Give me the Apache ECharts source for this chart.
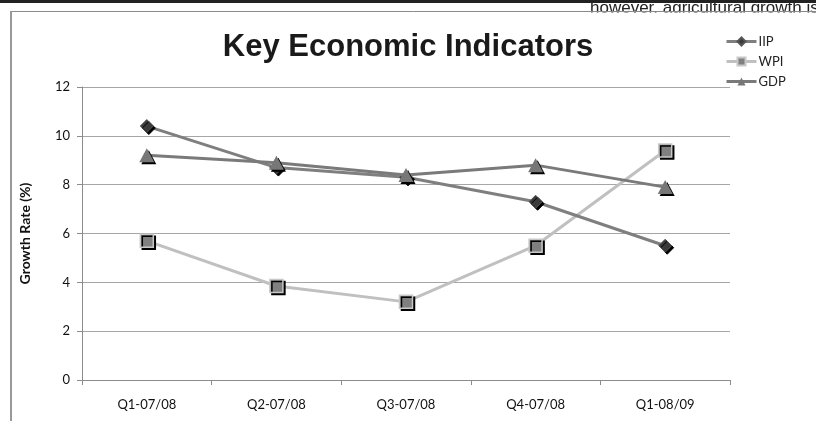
<!DOCTYPE html>
<html>
<head>
<meta charset="utf-8">
<script src="https://cdn.jsdelivr.net/npm/echarts@6/dist/echarts.min.js"></script>
<style>
  html, body { margin: 0; padding: 0; background: #fff; }
  #chart { width: 816px; height: 421px; }
</style>
</head>
<body>
<div id="chart"></div>
<script>
// Quarterly growth rates (%)
const quarters = ['Q1-07/08', 'Q2-07/08', 'Q3-07/08', 'Q4-07/08', 'Q1-08/09'];
const iip = [10.4, 8.7, 8.3, 7.3, 5.5];
const wpi = [5.7, 3.85, 3.2, 5.5, 9.4];
const gdp = [9.2, 8.9, 8.4, 8.8, 7.9];
const yTicks = { min: 0, max: 12, interval: 2 };

const labelFont = 'Lato, "Open Sans", sans-serif';
const markerShadow = { shadowColor: '#000', shadowBlur: 0, shadowOffsetX: 2, shadowOffsetY: 2 };

const chart = echarts.init(document.getElementById('chart'), null, { renderer: 'canvas' });

chart.setOption({
  backgroundColor: '#fff',
  animation: false,
  title: {
    text: 'Key Economic Indicators',
    left: 'center',
    top: 27,
    textStyle: { fontFamily: '"Liberation Sans", Arial, sans-serif', fontWeight: 'bold', fontSize: 31, color: '#1a1a1a' }
  },
  legend: {
    orient: 'vertical',
    left: 720,
    top: 30,
    itemWidth: 30,
    itemHeight: 10,
    itemGap: 7,
    lineStyle: { width: 3 },
    itemStyle: { shadowBlur: 0, shadowOffsetX: 0, shadowOffsetY: 0, shadowColor: 'transparent' },
    textStyle: { fontFamily: labelFont, fontSize: 13, color: '#222', padding: [0, 0, 0, -3] },
    data: ['IIP', 'WPI', 'GDP']
  },
  grid: { left: 82, right: 86, top: 87, bottom: 41, containLabel: false },
  xAxis: {
    type: 'category',
    data: quarters,
    boundaryGap: true,
    axisLine: { lineStyle: { color: '#8c8c8c', width: 1 } },
    axisTick: { show: true, length: 5, lineStyle: { color: '#8c8c8c' } },
    axisLabel: { fontFamily: labelFont, fontSize: 13, color: '#111', margin: 18 }
  },
  yAxis: {
    type: 'value',
    min: yTicks.min,
    max: yTicks.max,
    interval: yTicks.interval,
    name: 'Growth Rate (%)',
    nameLocation: 'middle',
    nameGap: 50,
    nameTextStyle: { fontFamily: labelFont, fontWeight: 'bold', fontSize: 14, color: '#111' },
    axisLine: { show: true, lineStyle: { color: '#8c8c8c', width: 1 } },
    axisTick: { show: true, length: 5, lineStyle: { color: '#8c8c8c' } },
    axisLabel: { fontFamily: labelFont, fontSize: 13, color: '#111', margin: 12 },
    splitLine: { show: true, lineStyle: { color: '#a6a6a6', width: 1 } }
  },
  series: [
    {
      name: 'IIP',
      type: 'line',
      data: iip,
      symbol: 'diamond',
      symbolSize: 13,
      showAllSymbol: true,
      lineStyle: { color: '#7f7f7f', width: 3 },
      itemStyle: Object.assign({ color: '#3a3a3a', borderColor: '#555', borderWidth: 1 }, markerShadow),
      z: 4
    },
    {
      name: 'WPI',
      type: 'line',
      data: wpi,
      symbol: 'rect',
      symbolSize: 13,
      showAllSymbol: true,
      lineStyle: { color: '#c0c0c0', width: 3 },
      itemStyle: Object.assign({ color: '#808080', borderColor: '#c8c8c8', borderWidth: 1.5 }, markerShadow),
      z: 3
    },
    {
      name: 'GDP',
      type: 'line',
      data: gdp,
      symbol: 'triangle',
      symbolSize: [15, 14],
      showAllSymbol: true,
      lineStyle: { color: '#7a7a7a', width: 3 },
      itemStyle: Object.assign({ color: '#777777', borderColor: '#777777', borderWidth: 0 }, markerShadow),
      z: 5
    }
  ],
  graphic: [
    // running text of the surrounding page, mostly hidden behind the frame
    {
      type: 'text',
      left: 590,
      top: 0,
      z: 1,
      style: { text: 'however, agricultural growth is', font: '17px "Liberation Sans", Arial, sans-serif', fill: '#222' }
    },
    { type: 'rect', z: 2, shape: { x: 586, y: 12.5, width: 240, height: 18 }, style: { fill: '#fff' } },
    // heavy rule at the top edge
    { type: 'rect', z: 10, shape: { x: 0, y: 0, width: 816, height: 3 }, style: { fill: '#222' } },
    // chart frame
    { type: 'line', z: 10, shape: { x1: 11, y1: 11.5, x2: 816, y2: 11.5 }, style: { stroke: '#8a8a8a', lineWidth: 1 } },
    { type: 'line', z: 10, shape: { x1: 11, y1: 11, x2: 11, y2: 421 }, style: { stroke: '#999', lineWidth: 2 } }
  ]
});
</script>
</body>
</html>
